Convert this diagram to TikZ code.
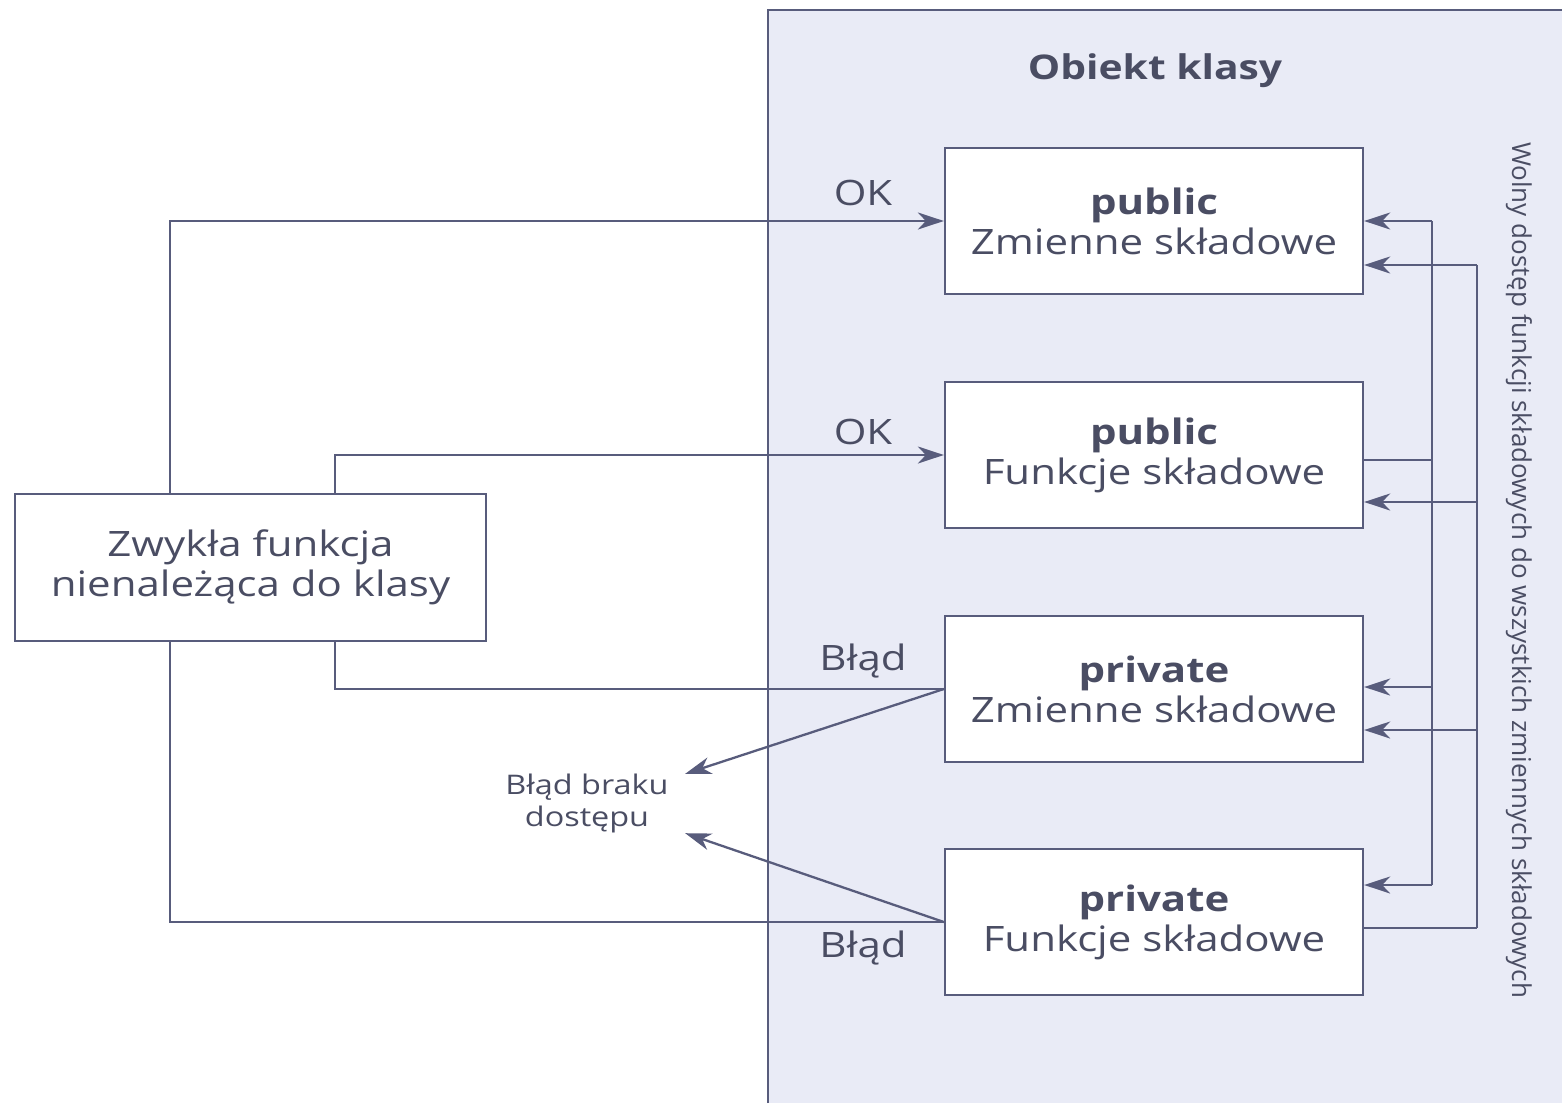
\documentclass[tikz,border=0pt]{standalone}
\usepackage{fontspec}
\setmainfont{Open Sans}[FakeStretch=1.2]
\newfontfamily\notefont{Open Sans}
\usetikzlibrary{arrows.meta}
\definecolor{ln}{HTML}{585C7C}
\definecolor{tx}{HTML}{4A4D63}
\definecolor{bg}{HTML}{E9EBF6}
\tikzset{
  line/.style={draw=ln, line width=2.3pt},
  arr/.style={line, -{Stealth[length=26pt, width=17pt, inset=8pt]}},
  member/.style={draw=ln, line width=2.3pt, fill=white, minimum width=418pt, minimum height=146pt,
    align=center, text=tx, font=\fontsize{35}{40}\selectfont, inner sep=0pt},
  lbl/.style={text=tx, font=\fontsize{35}{40}\selectfont, inner sep=0pt}
}
\begin{document}
\begin{tikzpicture}[x=1pt, y=-1pt]
\useasboundingbox (0,0) rectangle (1562,1103);
\fill[white] (0,0) rectangle (1562,1103);
\fill[bg] (768,10) rectangle (1562,1103);
\draw[line] (768,1103) -- (768,10) -- (1562,10);
\node[text=tx, font=\bfseries\fontsize{34}{40}\selectfont] (title) at (1155,71) {Obiekt klasy};

\node[member] (pubvar) at (1154,221) {\textbf{public}\\Zmienne składowe};
\node[member] (pubfun) at (1154,455) {\textbf{public}\\Funkcje składowe};
\node[member] (privar) at (1154,689) {\textbf{private}\\Zmienne składowe};
\node[member] (prifun) at (1154,922) {\textbf{private}\\Funkcje składowe};

\node[draw=ln, line width=2.3pt, fill=white, minimum width=471pt, minimum height=147pt,
  align=center, text=tx, font=\fontsize{35}{40}\selectfont, inner sep=0pt] (ext) at (250.5,567.5)
  {Zwykła funkcja\\nienależąca do klasy};

\node[text=tx, align=center, font=\fontsize{27}{32}\selectfont, minimum width=196pt,
  minimum height=57pt, inner sep=0pt] (err) at (587,803.5) {Błąd braku\\dostępu};

\node[lbl] at (863,193) {OK};
\node[lbl] at (863,432) {OK};
\node[lbl] at (863,661) {Błąd};
\node[lbl] at (863,948) {Błąd};

% left connectors
\draw[arr] ([xshift=-80.5pt]ext.north) |- (pubvar.west);
\draw[arr] ([xshift=84.5pt]ext.north) |- (pubfun.west);
\draw[line] ([xshift=84.5pt]ext.south) |- (privar.west);
\draw[line] ([xshift=-80.5pt]ext.south) |- (prifun.west);
\draw[arr] (privar.west) -- (err.north east);
\draw[arr] (prifun.west) -- (err.south east);

% right buses
\coordinate (busA) at (1432,0);
\coordinate (busB) at (1477,0);
\draw[line] (pubfun.east |- 0,460) -- (busA |- 0,460);
\draw[line] (busA |- pubvar.east) -- (busA |- 0,885);
\draw[arr] (busA |- pubvar.east) -- (pubvar.east);
\draw[arr] (busA |- 0,687) -- (privar.east |- 0,687);
\draw[arr] (busA |- 0,885) -- (prifun.east |- 0,885);

\draw[line] (prifun.east |- 0,928) -- (busB |- 0,928);
\draw[line] (busB |- 0,265) -- (busB |- 0,928);
\draw[arr] (busB |- 0,265) -- (pubvar.east |- 0,265);
\draw[arr] (busB |- 0,502) -- (pubfun.east |- 0,502);
\draw[arr] (busB |- 0,730) -- (privar.east |- 0,730);

\node[text=tx, rotate=-90, font=\notefont\fontsize{26}{28}\selectfont] (note) at (1519,570)
  {Wolny dostęp funkcji składowych do wszystkich zmiennych składowych};
\end{tikzpicture}
\end{document}
